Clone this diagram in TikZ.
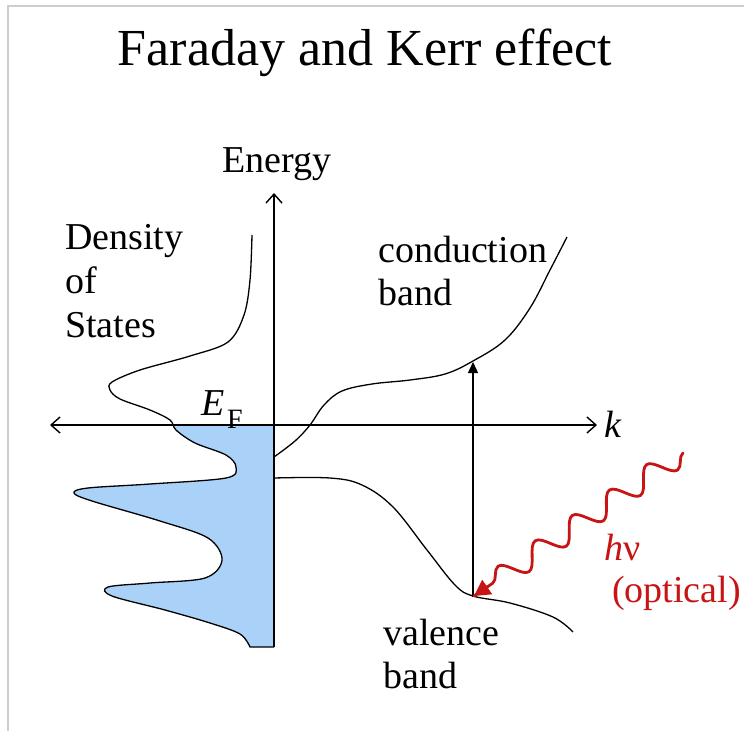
\documentclass[tikz,border=0pt]{standalone}
\usepackage{fontspec}
\setmainfont{Liberation Serif}
\usetikzlibrary{arrows.meta,decorations.pathmorphing,calc}
\definecolor{dosblue}{RGB}{170,210,248}
\definecolor{photonred}{RGB}{200,20,20}
\definecolor{framegray}{RGB}{205,205,205}
\tikzset{axbarb/.tip={Straight Barb[length=9pt,width=16pt]}}
\begin{document}
\begin{tikzpicture}[x=1pt,y=-1pt,
  lbl/.style={font=\fontsize{38}{43}\selectfont, inner sep=0pt, align=left},
  titlestyle/.style={font=\fontsize{52}{60}\selectfont, inner sep=0pt},
  axisline/.style={line width=1.4pt},
  bandline/.style={line width=1.3pt},
]
\useasboundingbox (0,0) rectangle (744,731);
\fill[white] (0,0) rectangle (744,731);
\draw[framegray, line width=1.6pt] (8,731) -- (8,6) -- (744,6);

% title
\node[titlestyle, anchor=base] (title) at (365,65) {Faraday and Kerr effect};

% DOS fill
\begin{scope}
\clip (0,425) rectangle (274,700);
\fill[dosblue] plot[smooth, tension=0.55] coordinates {
(252,235) (250,280) (244,315) (228,342) (190,356) (140,370) (112,382) (110,390) (120,399) (150,410) (170,420) (176,430) (195,443) (226,455) (236,467) (226,478) (150,484) (88,488) (74,493) (92,501) (160,521) (208,538) (222,560) (205,578) (150,583) (108,587) (112,596) (165,610) (210,623) (240,634) (250,647)} -- (274,647) -- (274,235) -- cycle;
\end{scope}
\draw[bandline] plot[smooth, tension=0.55] coordinates {
(252,235) (250,280) (244,315) (228,342) (190,356) (140,370) (112,382) (110,390) (120,399) (150,410) (170,420) (176,430) (195,443) (226,455) (236,467) (226,478) (150,484) (88,488) (74,493) (92,501) (160,521) (208,538) (222,560) (205,578) (150,583) (108,587) (112,596) (165,610) (210,623) (240,634) (250,647)} -- (274,647);

% axes
\coordinate (ybot) at (274,647);
\coordinate (ytop) at (274,193);
\coordinate (kleft) at (50,425);
\coordinate (kright) at (597,425);
\draw[axisline, -{axbarb}] (ybot) -- (ytop);
\draw[axisline, {axbarb}-{axbarb}] (kleft) -- (kright);

% bands
\draw[bandline] plot[smooth, tension=0.6] coordinates {
(274,457) (295,441) (310,425) (324,405) (342,391) (372,384) (410,380) (445,374) (473,361) (505,340) (530,308) (550,270) (567,237)};
\draw[bandline] plot[smooth, tension=0.6] coordinates {
(274,478) (330,478) (362,485) (393,507) (427,550) (455,585) (473,596) (510,603) (553,617) (573,632)};

% transition arrow
\coordinate (vb) at (473,597);
\coordinate (cb) at (473,362);
\draw[bandline, -{Triangle[length=11pt,width=10pt]}] (vb) -- (cb);

% photon
\coordinate (ps) at (683,453);
\coordinate (pe) at (474,596);
\draw[photonred, line width=2.8pt, line cap=round, decorate, decoration={snake, amplitude=11pt, segment length=45pt, post length=16pt}] (ps) -- (pe);
\draw[photonred, line width=2.8pt, -{Triangle[length=16pt,width=17pt]}] ($(pe)!17pt!(ps)$) -- (pe);

% labels
\node[lbl, anchor=base] (energy) at (277,172) {Energy};
\node[lbl, anchor=base west] (dos1) at (65,249) {Density};
\node[lbl, anchor=base west] (dos2) at (65,293) {of};
\node[lbl, anchor=base west] (dos3) at (65,337) {States};
\node[lbl, anchor=base west] (cond1) at (378,262) {conduction};
\node[lbl, anchor=base west] (cond2) at (378,305) {band};
\node[lbl, anchor=base west] (val1) at (383,645) {valence};
\node[lbl, anchor=base west] (val2) at (383,688) {band};
\node[lbl, anchor=base west] (ef) at (201,415) {\textit{E}};
\node[font=\fontsize{28}{30}\selectfont, inner sep=0pt, anchor=base west] (efsub) at (227,428) {F};
\node[lbl, anchor=base west] (klbl) at (604,437) {\textit{k}};
\node[lbl, anchor=base west, text=photonred] (hnu) at (604,560) {\textit{h}ν};
\node[lbl, anchor=base west, text=photonred] (opt) at (612,602) {(optical)};
\end{tikzpicture}
\end{document}
